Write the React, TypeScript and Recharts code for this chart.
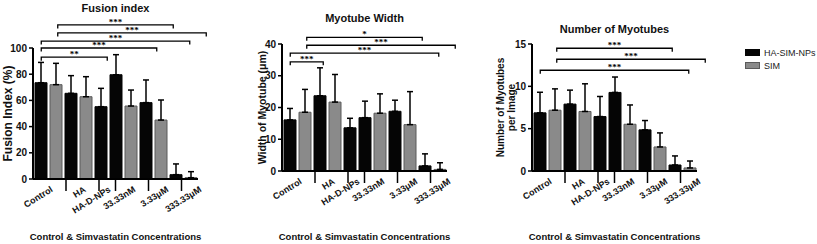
import React from 'react';
import { BarChart, Bar, XAxis, YAxis, ErrorBar, ReferenceLine, Label } from 'recharts';

const FONT = "'Liberation Sans', Arial, Helvetica, sans-serif";
const H = 244;

// x-axis groups, and for every bar (left to right) its group and series
const GROUPS = ['Control', 'HA', 'HA-D-NPs', '33.33nM', '3.33μM', '333.33μM'];
const BAR_GROUP = [0, 0, 1, 1, 2, 3, 3, 4, 4, 5, 5];
const BAR_SERIES = ['nps', 'sim', 'nps', 'sim', 'nps', 'nps', 'sim', 'nps', 'sim', 'nps', 'sim'];

const SERIES = [
  { key: 'nps', name: 'HA-SIM-NPs', fill: '#050505', stroke: '#050505' },
  { key: 'sim', name: 'SIM', fill: '#8a8a8a', stroke: '#5a5a5a' },
];

// Fusion index (%), mean and SD
const FUSION_MEAN = [73.5, 72, 65.4, 62.8, 55.2, 79.6, 55.7, 58.3, 45, 3.3, 1.0];
const FUSION_SD = [15.5, 16.3, 13.5, 15.3, 14, 15.3, 12.2, 17.3, 15.3, 8.2, 4.6];
const FUSION_TICKS = [0, 20, 40, 60, 80, 100];
// significance brackets: [from bar, to bar, height, stars]
const FUSION_SIG = [
  [0, 4, 93, '**'],
  [0, 7, 100, '***'],
  [0, 9, 105.3, '***'],
  [1, 10, 111.5, '***'],
  [1, 8, 117.6, '***'],
];

// Myotube width (um)
const WIDTH_MEAN = [16.1, 18.5, 23.7, 21.7, 13.6, 16.8, 18.2, 18.8, 14.6, 1.6, 0.5];
const WIDTH_SD = [3.6, 7.2, 8.8, 8.7, 3.0, 5.2, 6.1, 3.5, 10.4, 3.8, 2.1];
const WIDTH_TICKS = [0, 10, 20, 30, 40];
const WIDTH_SIG = [
  [0, 2, 34.4, '***'],
  [0, 9, 37.1, '***'],
  [1, 10, 39.6, '***'],
  [1, 8, 42.1, '*'],
];

// Number of myotubes per image
const COUNT_MEAN = [6.87, 7.18, 7.9, 7.03, 6.43, 9.28, 5.52, 4.86, 2.84, 0.71, 0.36];
const COUNT_SD = [2.43, 2.52, 1.65, 3.27, 2.37, 1.82, 2.28, 1.1, 1.66, 1.07, 0.82];
const COUNT_TICKS = [0, 5, 10, 15];
const COUNT_SIG = [
  [0, 9, 11.9, '***'],
  [1, 10, 13.2, '***'],
  [1, 8, 14.5, '***'],
];

const N = BAR_GROUP.length;
// group separators sit between bars of different groups, labels at group centres
const BOUNDARIES = BAR_GROUP.map((g, i) => (i > 0 && g !== BAR_GROUP[i - 1] ? i : -1)).filter((v) => v >= 0);
const CENTERS = GROUPS.map((_, g) => {
  const idx = BAR_GROUP.map((gg, i) => (gg === g ? i + 0.5 : -1)).filter((v) => v >= 0);
  return idx.reduce((a, b) => a + b, 0) / idx.length;
});
const AXIS_TICKS = [...BOUNDARIES, ...CENTERS].sort((a, b) => a - b);

function buildRows(mean: number[], sd: number[]) {
  return mean.map((m, i) => {
    const s = BAR_SERIES[i];
    return { id: `b${i}`, [s]: m, [s + 'Err']: sd[i] };
  });
}

// only the upper whisker is drawn (mean + SD)
const errOf = (key: string) => (d: any) => {
  const p = d && d.payload ? d.payload : d;
  const e = p ? p[key + 'Err'] : undefined;
  return e == null ? undefined : [0, e];
};

function GroupTick(props: any) {
  const { x, y, payload } = props;
  const v = payload.value;
  if (BOUNDARIES.includes(v)) {
    return <line x1={x} y1={y} x2={x} y2={y + 12} stroke="#000" strokeWidth={1.5} />;
  }
  const g = CENTERS.indexOf(v);
  if (g < 0) return null;
  const tx = x + 4;
  const ty = y + 12;
  return (
    <text x={tx} y={ty} transform={`rotate(-32 ${tx} ${ty})`} textAnchor="end"
      fontFamily={FONT} fontSize={9} fontWeight="bold" fill="#111">
      {GROUPS[g]}
    </text>
  );
}

const bracket = (p: any) => (
  <path d={`M${p.x1},${p.y1 + 3.5}V${p.y1}H${p.x2}V${p.y2 + 3.5}`} fill="none" stroke="#000" strokeWidth={1.3} />
);

const countYLabel = (props: any) => {
  const { viewBox } = props;
  const cx = viewBox.x + 43.5;
  const cy = viewBox.y + viewBox.height / 2;
  return (
    <text transform={`rotate(-90 ${cx} ${cy})`} x={cx} y={cy} textAnchor="middle"
      fontFamily={FONT} fontSize={10} fontWeight="bold" fill="#111">
      <tspan x={cx} dy={-2}>Number of Myotubes</tspan>
      <tspan x={cx} dy={11}>per Image</tspan>
    </text>
  );
};

interface PanelProps {
  title: string;
  yLabel: any;
  mean: number[];
  sd: number[];
  ticks: number[];
  sig: any[];
  left: number;
  width: number;
  yWidth: number;
  right: number;
  top: number;
  xHeight: number;
  titleY: number;
}

function Panel(p: PanelProps) {
  const rows = buildRows(p.mean, p.sd);
  const plotW = p.width - p.yWidth - p.right;
  return (
    <div style={{ position: 'absolute', left: p.left, top: 0, width: p.width, height: H }}>
      <div style={{
        position: 'absolute', left: p.yWidth, width: plotW, top: p.titleY - 7, textAlign: 'center',
        fontFamily: FONT, fontWeight: 'bold', fontSize: 11, lineHeight: '14px', color: '#111',
      }}>
        {p.title}
      </div>
      <BarChart width={p.width} height={H} data={rows} barSize={12}
        margin={{ top: p.top, right: p.right, bottom: 0, left: 0 }}>
        <XAxis xAxisId="num" type="number" domain={[0, N]} allowDataOverflow ticks={AXIS_TICKS} interval={0}
          height={p.xHeight} tick={GroupTick} tickLine={false} tickSize={0} tickMargin={0}
          axisLine={{ stroke: '#000', strokeWidth: 2 }}>
          <Label value="Control & Simvastatin Concentrations" position="insideBottom" offset={4}
            style={{ fontFamily: FONT, fontSize: 9.5, fontWeight: 'bold', fill: '#111' }} />
        </XAxis>
        <XAxis xAxisId="cat" dataKey="id" hide height={0} />
        <YAxis domain={[0, p.ticks[p.ticks.length - 1]]} ticks={p.ticks} width={p.yWidth} allowDataOverflow
          axisLine={{ stroke: '#000', strokeWidth: 2 }} tickLine={{ stroke: '#000', strokeWidth: 1.5 }}
          tickSize={4} tickMargin={2}
          tick={{ fontFamily: FONT, fontSize: 10, fontWeight: 'bold', fill: '#111' }}
          label={p.yLabel} />
        {SERIES.map((s) => (
          <Bar key={s.key} xAxisId="cat" dataKey={s.key} name={s.name} stackId="a"
            fill={s.fill} stroke={s.stroke} strokeWidth={1} isAnimationActive={false}>
            <ErrorBar dataKey={errOf(s.key)} width={3} stroke="#000" strokeWidth={1.5} direction="y" />
          </Bar>
        ))}
        {p.sig.map(([a, b, y, stars]: any, i: number) => (
          <ReferenceLine key={i} xAxisId="num" ifOverflow="visible"
            segment={[{ x: a + 0.5, y }, { x: b + 0.5, y }]} shape={bracket}
            label={{ value: stars, position: 'top', offset: 0, fontSize: 9, fontWeight: 'bold', fill: '#000' }} />
        ))}
      </BarChart>
    </div>
  );
}

export default function App() {
  return (
    <div style={{ position: 'absolute', left: 0, top: 0, width: 817, height: H, background: '#fff', overflow: 'hidden' }}>
      <Panel title="Fusion index" mean={FUSION_MEAN} sd={FUSION_SD} ticks={FUSION_TICKS} sig={FUSION_SIG}
        left={0} width={232} yWidth={33} right={34} top={48} xHeight={65} titleY={7.5}
        yLabel={{ value: 'Fusion Index (%)', angle: -90, position: 'insideLeft', offset: 8,
          style: { textAnchor: 'middle', fontFamily: FONT, fontSize: 12, fontWeight: 'bold', fill: '#111' } }} />
      <Panel title="Myotube Width" mean={WIDTH_MEAN} sd={WIDTH_SD} ticks={WIDTH_TICKS} sig={WIDTH_SIG}
        left={230} width={232} yWidth={52} right={15} top={44} xHeight={73} titleY={17.5}
        yLabel={{ value: 'Width of Myotube (μm)', angle: -90, position: 'insideLeft', offset: 32,
          style: { textAnchor: 'middle', fontFamily: FONT, fontSize: 10.5, fontWeight: 'bold', fill: '#111' } }} />
      <Panel title="Number of Myotubes" mean={COUNT_MEAN} sd={COUNT_SD} ticks={COUNT_TICKS} sig={COUNT_SIG}
        left={462} width={250} yWidth={70} right={15} top={44} xHeight={73} titleY={28.5}
        yLabel={<Label content={countYLabel} />} />
      <div style={{ position: 'absolute', left: 745, top: 46, fontFamily: FONT, fontSize: 9, color: '#222' }}>
        {SERIES.map((s) => (
          <div key={s.key} style={{ display: 'flex', alignItems: 'center', height: 13 }}>
            <span style={{ display: 'inline-block', width: 13, height: 5, background: s.fill, border: `1px solid ${s.stroke}`, marginRight: 4 }} />
            <span>{s.name}</span>
          </div>
        ))}
      </div>
    </div>
  );
}
